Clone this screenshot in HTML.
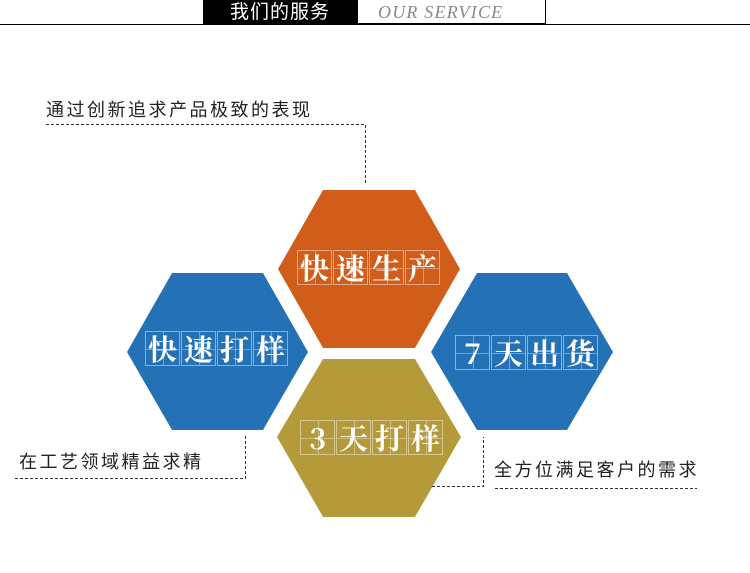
<!DOCTYPE html>
<html><head><meta charset="utf-8"><style>
body{margin:0;width:750px;height:573px;background:#fff;position:relative;overflow:hidden;font-family:"Liberation Sans","Noto Sans CJK SC",sans-serif}
.a{position:absolute}
.lbl{position:absolute;font-size:18px;color:#222;letter-spacing:2.5px;white-space:nowrap;line-height:20px}
.grid{position:absolute;display:flex}
.cell{width:35px;height:35px;border:1px solid rgba(255,255,255,.45);box-sizing:border-box;position:relative;color:#fff;font-weight:bold;font-size:29px;line-height:33px;text-align:center;font-family:"Noto Serif CJK SC","Noto Sans CJK SC",serif;margin-right:1px}
.cell:before{content:"";position:absolute;left:50%;top:0;bottom:0;border-left:1px solid rgba(255,255,255,.35)}
.cell:after{content:"";position:absolute;top:50%;left:0;right:0;border-top:1px solid rgba(255,255,255,.35)}
.cell span{position:relative;z-index:1}
</style></head><body>
<div class="a" style="left:0;top:24px;width:750px;height:1px;background:#000"></div>
<div class="a" style="left:203px;top:0;width:154px;height:25px;background:#000;color:#fff;font-size:19px;line-height:25px;text-align:center;letter-spacing:1px">我们的服务</div>
<div class="a" style="left:357px;top:0;width:189px;height:24px;border:1px solid #000;border-top:none;box-sizing:border-box;color:#888;font-family:'Liberation Serif',serif;font-style:italic;font-size:18px;line-height:25px;padding-left:20px;letter-spacing:1.2px">OUR SERVICE</div>

<svg class="a" style="left:0;top:0" width="750" height="573">
<polygon points="323,190 415,190 460,269 415,348 323,348 278,269" fill="#d05e1a"/>
<polygon points="172,273 263,273 308,352 263,430 172,430 127,352" fill="#2571b6"/>
<polygon points="477,273 567,273 613,352 567,430 477,430 431,352" fill="#2571b6"/>
<polygon points="323,359 415,359 461,437 415,517 323,517 277,437" fill="#b59a3a"/>
<g stroke="#333" stroke-width="1" stroke-dasharray="3,2" fill="none">
<path d="M46,124.5 H365.5 V185"/>
<path d="M15,478.5 H245.5 V434"/>
<path d="M432,486.5 H483.5 V437"/>
<path d="M495,488.5 H697"/>
</g>
</svg>

<div class="lbl" style="left:46px;top:100px">通过创新追求产品极致的表现</div>
<div class="lbl" style="left:19px;top:452px">在工艺领域精益求精</div>
<div class="lbl" style="left:494px;top:460px">全方位满足客户的需求</div>

<div class="grid" style="left:297px;top:250px"><div class="cell"><span>快</span></div><div class="cell"><span>速</span></div><div class="cell"><span>生</span></div><div class="cell"><span>产</span></div></div>
<div class="grid" style="left:145px;top:331px"><div class="cell"><span>快</span></div><div class="cell"><span>速</span></div><div class="cell"><span>打</span></div><div class="cell"><span>样</span></div></div>
<div class="grid" style="left:455px;top:335px"><div class="cell"><span>7</span></div><div class="cell"><span>天</span></div><div class="cell"><span>出</span></div><div class="cell"><span>货</span></div></div>
<div class="grid" style="left:300px;top:420px"><div class="cell"><span>3</span></div><div class="cell"><span>天</span></div><div class="cell"><span>打</span></div><div class="cell"><span>样</span></div></div>
</body></html>
